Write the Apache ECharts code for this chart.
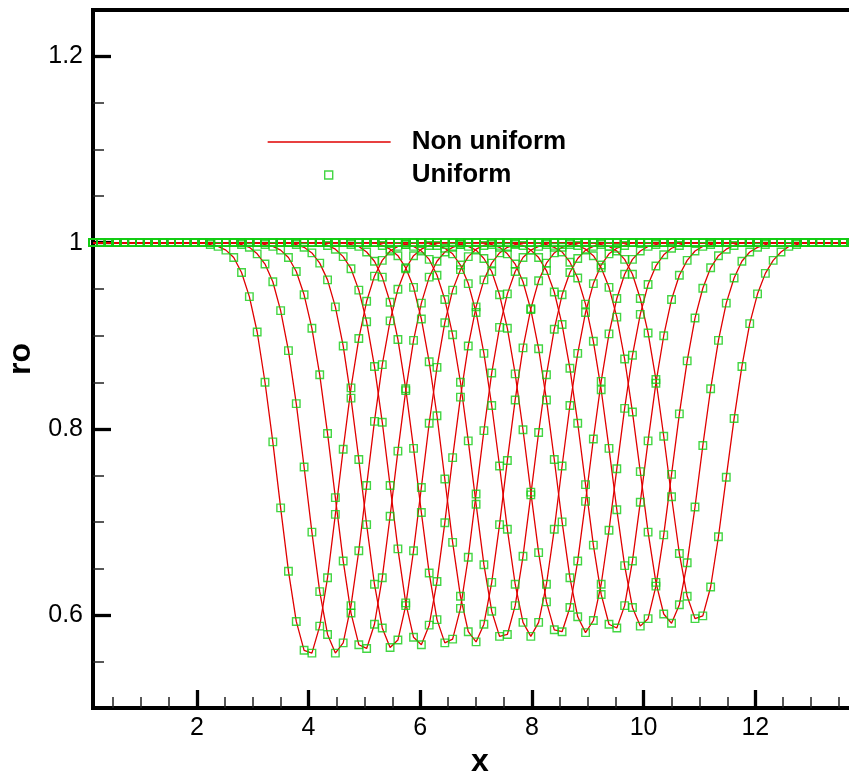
<!DOCTYPE html>
<html>
<head>
<meta charset="utf-8">
<script src="https://cdn.jsdelivr.net/npm/echarts@6/dist/echarts.min.js"></script>
<style>
html,body{margin:0;padding:0;background:#fff;}
#chart{width:849px;height:774px;}
</style>
</head>
<body>
<div id="chart"></div>
<script>
// Uniform mesh x positions (cell spacing 0.14)
const xGrid = [0.14,0.28,0.42,0.56,0.70,0.84,0.98,1.12,1.26,1.40,1.54,1.68,1.82,1.96,2.10,2.24,2.38,2.52,2.66,2.80,
2.94,3.08,3.22,3.36,3.50,3.64,3.78,3.92,4.06,4.20,4.34,4.48,4.62,4.76,4.90,5.04,5.18,5.32,5.46,5.60,
5.74,5.88,6.02,6.16,6.30,6.44,6.58,6.72,6.86,7.00,7.14,7.28,7.42,7.56,7.70,7.84,7.98,8.12,8.26,8.40,
8.54,8.68,8.82,8.96,9.10,9.24,9.38,9.52,9.66,9.80,9.94,10.08,10.22,10.36,10.50,10.64,10.78,10.92,11.06,11.20,
11.34,11.48,11.62,11.76,11.90,12.04,12.18,12.32,12.46,12.60,12.74,12.88,13.02,13.16,13.30,13.44,13.58,13.72,13.86,14.00];

// undisturbed density level
const BASELINE = 1;

// mesh node (1-based) where each dip's values start
const dipStartN = [16,20,23,27,31,34,38,41,45,48,52,55,59,63,66];

const dip01 = [0.998,0.996,0.992,0.984,0.968,0.942,0.904,0.850,0.786,0.715,0.647,0.593,0.562,0.559,0.588,0.640,0.708,0.778,0.844,0.897,0.937,0.964,0.981,0.991,0.996,0.998];
const dip02 = [0.998,0.995,0.988,0.977,0.958,0.927,0.884,0.827,0.759,0.689,0.625,0.579,0.559,0.570,0.610,0.669,0.739,0.808,0.869,0.916,0.950,0.972,0.986,0.993,0.997];
const dip03 = [0.998,0.996,0.992,0.984,0.969,0.944,0.908,0.858,0.795,0.726,0.658,0.602,0.568,0.564,0.590,0.640,0.706,0.776,0.841,0.895,0.935,0.963,0.980,0.990,0.995,0.998];
const dip04 = [0.998,0.995,0.989,0.978,0.960,0.931,0.889,0.833,0.767,0.697,0.633,0.586,0.565,0.573,0.610,0.669,0.737,0.806,0.866,0.914,0.949,0.971,0.985,0.993,0.997];
const dip05 = [0.997,0.993,0.985,0.972,0.949,0.915,0.867,0.807,0.739,0.671,0.613,0.576,0.568,0.589,0.636,0.699,0.769,0.834,0.889,0.931,0.960,0.978,0.989,0.995,0.998];
const dip06 = [0.998,0.996,0.990,0.980,0.963,0.936,0.896,0.843,0.779,0.710,0.645,0.595,0.570,0.574,0.607,0.662,0.730,0.798,0.860,0.909,0.945,0.969,0.984,0.992,0.996];
const dip07 = [0.997,0.993,0.986,0.973,0.952,0.918,0.872,0.814,0.746,0.678,0.620,0.582,0.571,0.590,0.635,0.697,0.766,0.831,0.887,0.929,0.959,0.978,0.989,0.995,0.998];
const dip08 = [0.998,0.996,0.991,0.982,0.965,0.939,0.901,0.850,0.787,0.719,0.654,0.604,0.577,0.579,0.610,0.663,0.729,0.796,0.858,0.907,0.944,0.968,0.983,0.992,0.996];
const dip09 = [0.997,0.994,0.988,0.976,0.956,0.925,0.881,0.825,0.760,0.692,0.633,0.592,0.577,0.592,0.633,0.692,0.760,0.825,0.881,0.925,0.956,0.976,0.988,0.994,0.997];
const dip10 = [0.998,0.996,0.992,0.983,0.969,0.944,0.908,0.859,0.799,0.732,0.667,0.614,0.584,0.582,0.608,0.658,0.722,0.789,0.851,0.902,0.940,0.966,0.982,0.991,0.996,0.998];
const dip11 = [0.998,0.995,0.988,0.977,0.958,0.928,0.886,0.831,0.767,0.700,0.640,0.598,0.581,0.594,0.633,0.691,0.757,0.822,0.879,0.923,0.955,0.975,0.987,0.994,0.997];
const dip12 = [0.999,0.997,0.992,0.984,0.970,0.947,0.912,0.865,0.806,0.740,0.675,0.622,0.590,0.586,0.610,0.658,0.721,0.787,0.849,0.900,0.939,0.965,0.981,0.991,0.996,0.998];
const dip13 = [0.998,0.995,0.990,0.979,0.962,0.934,0.894,0.842,0.779,0.713,0.653,0.608,0.588,0.596,0.631,0.686,0.751,0.816,0.873,0.919,0.951,0.973,0.986,0.993,0.997];
const dip14 = [0.997,0.993,0.986,0.973,0.952,0.920,0.875,0.818,0.754,0.689,0.635,0.601,0.591,0.611,0.656,0.716,0.782,0.843,0.895,0.935,0.962,0.980,0.990,0.995,0.998];
const dip15 = [0.998,0.996,0.991,0.982,0.966,0.940,0.903,0.853,0.792,0.727,0.666,0.620,0.596,0.599,0.630,0.684,0.748,0.811,0.867,0.913,0.945,0.967,0.981,0.990,0.996,0.998];

const xMajorTicks = [2,4,6,8,10,12];
const xMinorTicks = [0.5,1,1.5,2.5,3,3.5,4.5,5,5.5,6.5,7,7.5,8.5,9,9.5,10.5,11,11.5,12.5,13,13.5];
const yMajorTicks = [0.6,0.8,1,1.2];
const yMinorTicks = [0.55,0.65,0.7,0.75,0.85,0.9,0.95,1.05,1.1,1.15];

const dips = [dip01,dip02,dip03,dip04,dip05,dip06,dip07,dip08,dip09,dip10,dip11,dip12,dip13,dip14,dip15];
const curves = dips.map(function (dip, k) {
  return xGrid.map(function (x, i) {
    const j = i + 1 - dipStartN[k];
    return [x, (j >= 0 && j < dip.length) ? dip[j] : BASELINE];
  });
});

const RED = '#e00000';
const GREEN = '#14cc14';
const FONT = "'Liberation Sans', Arial, Helvetica, sans-serif";

const series = [];
curves.forEach(function (d) {
  series.push({
    type: 'line', name: 'Non uniform', data: d, symbol: 'none', silent: true,
    lineStyle: { color: RED, width: 1.3 }, itemStyle: { color: RED }, z: 2
  });
});
curves.forEach(function (d) {
  series.push({
    type: 'scatter', name: 'Uniform', data: d, symbol: 'rect', symbolSize: 7.5, silent: true,
    itemStyle: { color: 'rgba(0,0,0,0)', borderColor: GREEN, borderWidth: 1.4 }, z: 3
  });
});

const chart = echarts.init(document.getElementById('chart'), null, { renderer: 'canvas' });
chart.setOption({
  animation: false,
  backgroundColor: '#fff',
  textStyle: { fontFamily: FONT },
  grid: {
    left: 93, top: 10, width: 774, height: 698,
    outerBoundsMode: 'none', containLabel: false,
    show: true, borderColor: '#000', borderWidth: 4, backgroundColor: 'rgba(0,0,0,0)'
  },
  legend: [
    {
      data: ['Non uniform'], left: 267, top: 129, padding: 0, selectedMode: false,
      itemWidth: 123, itemHeight: 10,
      lineStyle: { color: RED, width: 1.3 },
      itemStyle: { color: 'rgba(0,0,0,0)', borderWidth: 0, opacity: 0 },
      textStyle: { fontSize: 26, fontWeight: 'bold', color: '#000', fontFamily: FONT, padding: [0, 0, 0, 16] }
    },
    {
      data: ['Uniform'], left: 324, top: 162, padding: 0, selectedMode: false,
      itemWidth: 8, itemHeight: 8, icon: 'rect',
      itemStyle: { color: 'rgba(0,0,0,0)', borderColor: GREEN, borderWidth: 1.4 },
      textStyle: { fontSize: 26, fontWeight: 'bold', color: '#000', fontFamily: FONT, padding: [0, 0, 0, 74] }
    }
  ],
  xAxis: [
    {
      type: 'value', min: 0.14, max: 14, position: 'bottom',
      name: 'x', nameLocation: 'middle', nameGap: 25,
      nameTextStyle: { fontSize: 32, fontWeight: 'bold', color: '#000', fontFamily: FONT },
      axisLine: { show: true, lineStyle: { color: '#000', width: 4 } },
      axisTick: { show: true, inside: true, length: 18, customValues: xMajorTicks, lineStyle: { color: '#000', width: 3.3 } },
      axisLabel: { show: true, customValues: xMajorTicks, fontSize: 25, color: '#000', margin: 8, fontFamily: FONT },
      splitLine: { show: false }
    },
    {
      type: 'value', min: 0.14, max: 14, position: 'bottom',
      axisLine: { show: false },
      axisTick: { show: true, inside: true, length: 11, customValues: xMinorTicks, lineStyle: { color: '#222', width: 1.5 } },
      axisLabel: { show: false },
      splitLine: { show: false }
    }
  ],
  yAxis: [
    {
      type: 'value', min: 0.5, max: 1.25, position: 'left',
      name: 'ro', nameLocation: 'middle', nameGap: 51,
      nameTextStyle: { fontSize: 32, fontWeight: 'bold', color: '#000', fontFamily: FONT },
      axisLine: { show: true, lineStyle: { color: '#000', width: 4 } },
      axisTick: { show: true, inside: true, length: 18, customValues: yMajorTicks, lineStyle: { color: '#000', width: 3.3 } },
      axisLabel: { show: true, customValues: yMajorTicks, fontSize: 25, color: '#000', margin: 10, fontFamily: FONT },
      splitLine: { show: false }
    },
    {
      type: 'value', min: 0.5, max: 1.25, position: 'left',
      axisLine: { show: false },
      axisTick: { show: true, inside: true, length: 11, customValues: yMinorTicks, lineStyle: { color: '#222', width: 1.5 } },
      axisLabel: { show: false },
      splitLine: { show: false }
    }
  ],
  series: series
});
</script>
</body>
</html>
